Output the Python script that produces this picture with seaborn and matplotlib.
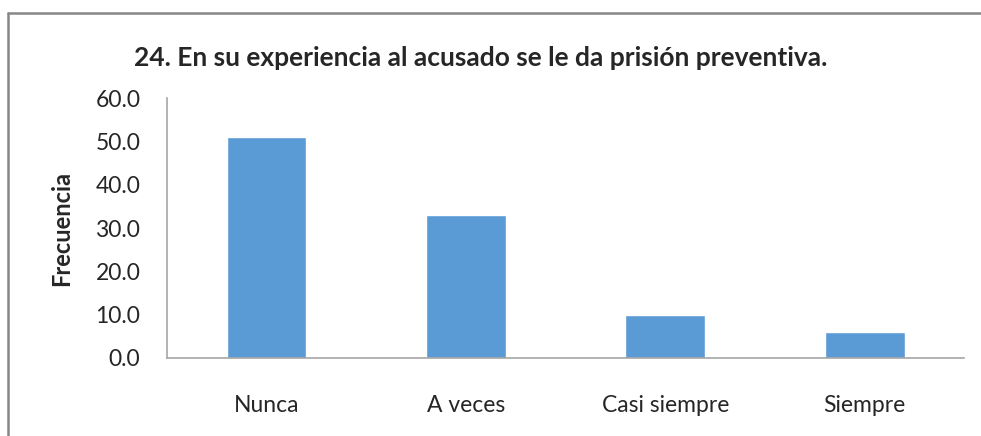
import matplotlib
matplotlib.use("Agg")
import matplotlib.pyplot as plt
import seaborn as sns
import pandas as pd
from matplotlib.lines import Line2D

categorias = ["Nunca", "A veces", "Casi siempre", "Siempre"]
frecuencia = [51.0, 33.0, 10.0, 6.0]
yticks = [0, 10, 20, 30, 40, 50, 60]

sns.set_theme(style="white")
plt.rcParams['font.family'] = ['Lato', 'DejaVu Sans']

df = pd.DataFrame({"categoria": categorias, "frecuencia": frecuencia})

fig = plt.figure(figsize=(9.81, 4.36), dpi=100)
ax = fig.add_axes([0.170, 0.179, 0.813, 0.596])

sns.barplot(data=df, x="categoria", y="frecuencia", color="#5b9bd5",
            width=0.4, saturation=1, ax=ax)

ax.set_ylim(0, 60)
ax.set_yticks(yticks)
ax.set_yticklabels([f"{v:.1f}" for v in yticks], fontsize=16.5)
ax.tick_params(axis="x", labelsize=16.5, pad=27, length=0)
ax.tick_params(axis="y", pad=19, length=0)
ax.set_xlabel("")
ax.set_ylabel("Frecuencia", fontsize=17, fontweight="bold", labelpad=16)

for s in ["top", "right"]:
    ax.spines[s].set_visible(False)
for s in ["left", "bottom"]:
    ax.spines[s].set_color("#a6a6a6")
    ax.spines[s].set_linewidth(1.2)

fig.text(0.49, 0.867, "24. En su experiencia al acusado se le da prisión preventiva.",
         ha="center", va="center", fontsize=19, fontweight="bold")

# chart frame (only top and left edges are inside the picture)
fig.lines.append(Line2D([0.008, 1.0], [0.971, 0.971], transform=fig.transFigure,
                        color="#878787", linewidth=1.8))
fig.lines.append(Line2D([0.008, 0.008], [0.0, 0.971], transform=fig.transFigure,
                        color="#878787", linewidth=1.8))

fig.savefig("out.png", dpi=100)
